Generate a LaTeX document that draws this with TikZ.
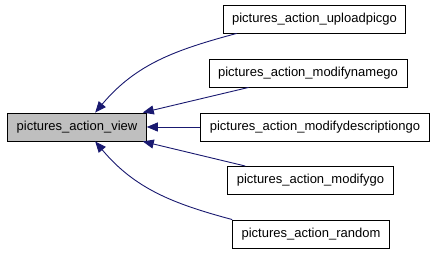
\documentclass[tikz,border=0pt]{standalone}
\usepackage{fontspec}
\setmainfont{Liberation Sans}
\usetikzlibrary{arrows.meta, positioning}

\definecolor{edgeblue}{HTML}{191970}
\definecolor{selgray}{HTML}{BFBFBF}

\begin{document}
\begin{tikzpicture}[
  x=1pt, y=-1pt,
  fn/.style={rectangle, draw=black, fill=white, line width=0.9pt,
             minimum height=28pt, inner xsep=9pt, inner ysep=0pt,
             font=\fontsize{13}{15}\selectfont},
  cur/.style={fn, fill=selgray},
  call/.style={{Triangle[length=11pt, width=9pt, fill=edgeblue]}-, draw=edgeblue, line width=0.9pt}
]
\useasboundingbox (0,0) rectangle (437,253);

\node[cur] (view) at (77,127) {pictures\_action\_view};

% callers, one per row
\node[fn] (upload) at (314.5,19)  {pictures\_action\_uploadpicgo};
\node[fn] (name)   at (308,73)    {pictures\_action\_modifynamego};
\node[fn] (descr)  at (315,127)   {pictures\_action\_modifydescriptiongo};
\node[fn] (modify) at (310.5,180.5) {pictures\_action\_modifygo};
\node[fn] (rand)   at (311,234)   {pictures\_action\_random};

\draw[call] ([xshift=88pt]view.north west) to[out=50, in=195] ([xshift=14pt]upload.south west);
\draw[call] ([xshift=-4pt]view.north east) -- ([xshift=40pt]name.south west);
\draw[call] (view.east) -- (descr.west);
\draw[call] ([xshift=-4pt]view.south east) -- ([xshift=18pt]modify.north west);
\draw[call] ([xshift=88pt]view.south west) to[out=-50, in=165] (rand.north west);

\end{tikzpicture}
\end{document}
